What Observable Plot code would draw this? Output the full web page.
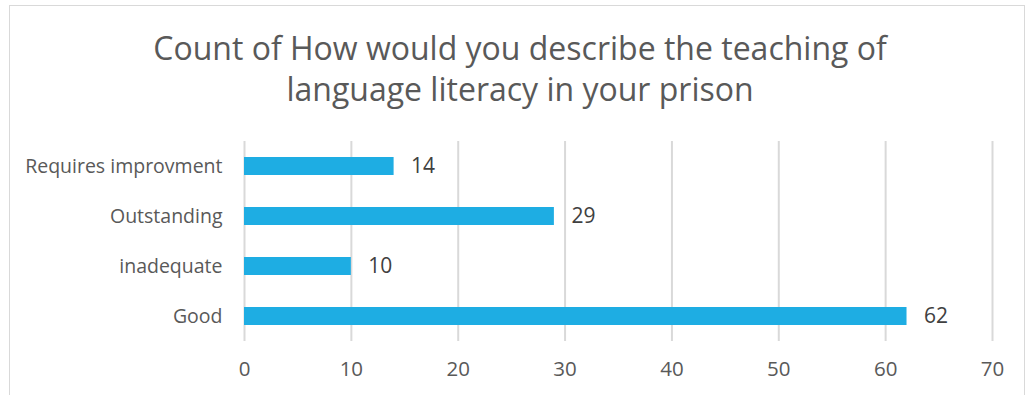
<!DOCTYPE html>
<html>
<head>
<meta charset="utf-8">
<script src="https://cdn.jsdelivr.net/npm/d3@7"></script>
<script src="https://cdn.jsdelivr.net/npm/@observablehq/plot@0.6"></script>
<style>
  html, body { margin: 0; padding: 0; background: #fff; width: 1034px; height: 395px; overflow: hidden; }
  #frame { position: absolute; left: 9px; top: 5px; width: 1016px; height: 420px; border: 1.5px solid #d9d9d9; box-sizing: border-box; }
  #title { position: absolute; left: 0; top: 26.5px; width: 1040px; text-align: center; font-family: "Open Sans", sans-serif; font-size: 32px; line-height: 41px; color: #595959; }
  #chart { position: absolute; left: 0; top: 120px; }
</style>
</head>
<body>
<div id="frame"></div>
<div id="title">Count of How would you describe the teaching of<br>language literacy in your prison</div>
<div id="chart"></div>
<script>
const categories = ["Requires improvment", "Outstanding", "inadequate", "Good"];
const counts = [14, 29, 10, 62];
const xTicks = [0, 10, 20, 30, 40, 50, 60, 70];

const data = categories.map((c, i) => ({category: c, count: counts[i]}));

const plot = Plot.plot({
  width: 1034,
  height: 275,
  marginLeft: 244,
  marginRight: 42,
  marginTop: 21,
  marginBottom: 54,
  style: {fontFamily: "Open Sans, sans-serif", fontSize: "19.5px", color: "#595959", background: "transparent"},
  x: {domain: [0, 70], ticks: xTicks, label: null},
  y: {domain: categories, paddingInner: 0.645, paddingOuter: 0.3225, label: null},
  marks: [
    Plot.gridX(xTicks, {stroke: "#d9d9d9", strokeOpacity: 1, strokeWidth: 2}),
    Plot.axisX({ticks: xTicks, tickSize: 0, tickPadding: 20, label: null, fontSize: 20.5, fill: "#595959"}),
    Plot.axisY({tickSize: 0, tickPadding: 22, label: null, fontSize: 19.5, fill: "#595959"}),
    Plot.barX(data, {x: "count", y: "category", fill: "#1eade3"}),
    Plot.text(data, {x: "count", y: "category", text: d => String(d.count), textAnchor: "start", dx: 17, fontSize: 21, fill: "#404040"})
  ]
});
document.getElementById("chart").appendChild(plot);
</script>
</body>
</html>
